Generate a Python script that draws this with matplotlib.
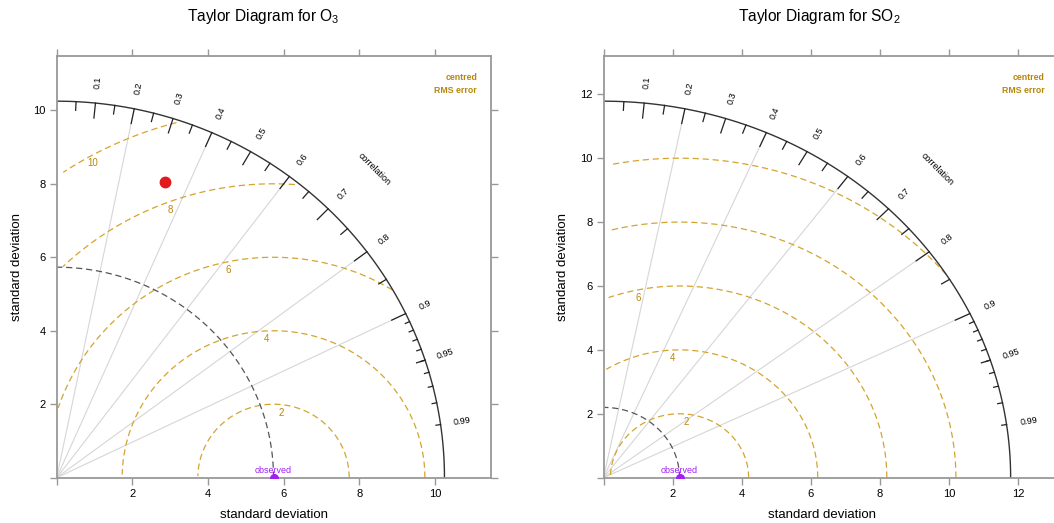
import numpy as np
import matplotlib.pyplot as plt

plt.rcParams['font.family'] = ['Liberation Sans', 'DejaVu Sans']
plt.rcParams['mathtext.fontset'] = 'custom'
plt.rcParams['mathtext.rm'] = 'Liberation Sans'
plt.rcParams['mathtext.it'] = 'Liberation Sans:italic'

# data
titles = ['Taylor Diagram for O$_3$', 'Taylor Diagram for SO$_2$']
obs_sd = [5.73, 2.2]
mod_sd = [8.54, 9.82]
mod_cor = [0.334, -0.2]   # SO2 model point falls outside the quadrant
rms_levels = [2, 4, 6, 8, 10]
corr_lines = [0.2, 0.4, 0.6, 0.8, 0.9]
corr_labels = [0.1, 0.2, 0.3, 0.4, 0.5, 0.6, 0.7, 0.8, 0.9, 0.95, 0.99]

GOLD_TXT = '#B8860B'
GOLD_LN = '#D4A430'
PURPLE = '#A020F0'
GREY = '#999999'

W, H = 1054, 523


def taylor(ax, sd_r, sd_m, cor_m, title, xl_x, yl_x, t_x):
    maxsd = 1.2 * max(sd_r, sd_m)
    lim = 1.12 * maxsd
    ax.set_xlim(0, lim)
    ax.set_ylim(0, lim)

    # correlation rays
    for c in corr_lines:
        ax.plot([0, maxsd * c], [0, maxsd * np.sqrt(1 - c * c)], color='#d6d6d6', lw=0.8)

    # centred rms circles (same stepping as plotrix / openair)
    t = np.arange(0, np.pi, 0.03)
    labelpos = np.linspace(49, 69, len(rms_levels)).astype(int)
    for g, lp in zip(rms_levels, labelpos):
        x = np.cos(t) * g + sd_r
        y = np.sin(t) * g
        neg = np.where(x < 0)[0]
        end = neg.min() if len(neg) else len(x)
        out = np.where(x * x + y * y > maxsd * maxsd)[0]
        start = out.max() + 1 if len(out) else 0
        ax.plot(x[start:end], y[start:end], color=GOLD_LN, lw=0.9, ls=(0, (5, 3)))
        if x[lp] > 0:
            ax.annotate(str(g), (x[lp], y[lp]), xytext=(0, -8), textcoords='offset pixels',
                        ha='center', va='center', color=GOLD_TXT, fontsize=7)

    # observed sd arc
    a = np.linspace(0, np.pi / 2, 100)
    ax.plot(sd_r * np.cos(a), sd_r * np.sin(a), color='#555555', lw=0.9, ls=(0, (5, 3)))

    # outer arc
    ax.plot(maxsd * np.cos(a), maxsd * np.sin(a), color='#333333', lw=1.0)

    # correlation ticks
    for vals, f in [(np.arange(0.1, 0.91, 0.1), 0.96),
                    (np.arange(0.05, 0.96, 0.1), 0.977),
                    (np.arange(0.91, 0.995, 0.01), 0.988)]:
        ang = np.arccos(vals)
        for th in ang:
            ax.plot([maxsd * np.cos(th), f * maxsd * np.cos(th)],
                    [maxsd * np.sin(th), f * maxsd * np.sin(th)], color='#222222', lw=0.9)

    for c in corr_labels:
        th = np.arccos(c)
        ax.text(1.055 * maxsd * np.cos(th), 1.055 * maxsd * np.sin(th), f'{c:g}',
                rotation=np.degrees(th), ha='center', va='center', fontsize=6.5,
                rotation_mode='anchor')
    th = np.radians(45)
    ax.text(1.16 * maxsd * np.cos(th), 1.16 * maxsd * np.sin(th), 'correlation',
            rotation=-45, ha='center', va='center', fontsize=6.5, rotation_mode='anchor')

    ax.text(0.968, 0.95, 'centred', transform=ax.transAxes, ha='right', va='center',
            color=GOLD_TXT, fontsize=6.3, fontweight='bold')
    ax.text(0.968, 0.919, 'RMS error', transform=ax.transAxes, ha='right', va='center',
            color=GOLD_TXT, fontsize=6.3, fontweight='bold')

    # points
    ax.plot(sd_r, 0, 'o', color=PURPLE, ms=5.5, zorder=3)
    ax.annotate('observed', (sd_r, 0), xytext=(0, 7), textcoords='offset pixels',
                ha='center', va='center', color=PURPLE, fontsize=6.5)
    ax.plot(sd_m * cor_m, sd_m * np.sqrt(1 - cor_m ** 2), 'o', color='#E31A1C', ms=7.5)

    ticks = np.arange(0, lim, 2)
    ax.set_xticks(ticks)
    ax.set_yticks(ticks)
    ax.set_xticklabels(['' if v == 0 else f'{v:g}' for v in ticks])
    ax.set_yticklabels(['' if v == 0 else f'{v:g}' for v in ticks])
    ax.tick_params(direction='out', length=5, width=1, color=GREY, labelsize=8,
                   top=True, right=True, pad=3)
    for s in ax.spines.values():
        s.set_color(GREY)
        s.set_linewidth(1.3)

    ax.set_xlabel('standard deviation', fontsize=9.5, va='center')
    ax.xaxis.set_label_coords(xl_x, -0.0885)
    ax.set_ylabel('standard deviation', fontsize=9.5, va='center')
    ax.yaxis.set_label_coords(yl_x, 0.5)
    ax.set_title(title, fontsize=11.2, x=t_x, y=1.0925, va='center', pad=0)


fig = plt.figure(figsize=(W / 100, H / 100), dpi=100)
ax1 = fig.add_axes([56.7 / W, 45.3 / H, 434.3 / W, 421.7 / H])
ax2 = fig.add_axes([603.5 / W, 45.3 / H, 456 / W, 421.7 / H])

taylor(ax1, obs_sd[0], mod_sd[0], mod_cor[0], titles[0], 0.5, -0.0914, 0.475)
taylor(ax2, obs_sd[1], mod_sd[1], mod_cor[1], titles[1], 0.479, -0.0888, 0.4737)

fig.savefig('out.png', dpi=100)
